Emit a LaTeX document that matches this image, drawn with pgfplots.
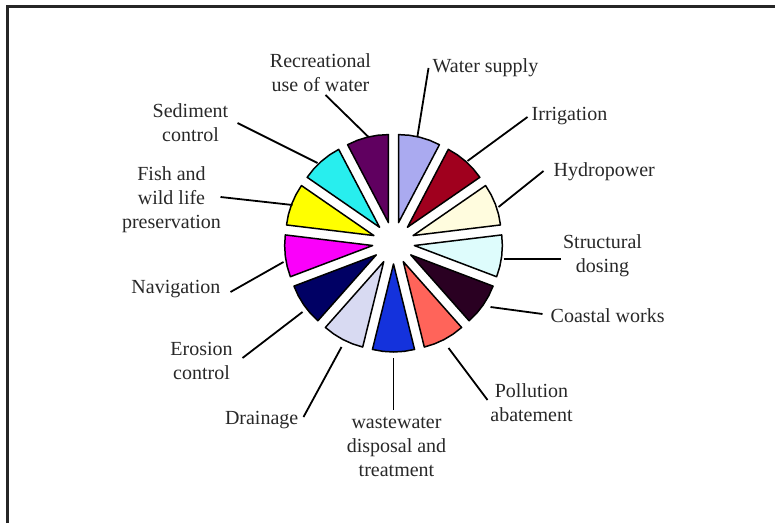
\documentclass[border=0pt]{standalone}
\usepackage{pgfplots}
\pgfplotsset{compat=1.18}
\usepackage{fontspec}
\setmainfont{Liberation Serif}
\definecolor{cWater}{RGB}{170,170,240}
\definecolor{cIrr}{RGB}{160,0,30}
\definecolor{cHydro}{RGB}{255,252,222}
\definecolor{cStruct}{RGB}{222,252,252}
\definecolor{cCoast}{RGB}{42,0,34}
\definecolor{cPoll}{RGB}{255,100,90}
\definecolor{cWaste}{RGB}{20,50,220}
\definecolor{cDrain}{RGB}{216,218,242}
\definecolor{cEros}{RGB}{0,0,100}
\definecolor{cNav}{RGB}{250,0,250}
\definecolor{cFish}{RGB}{255,255,0}
\definecolor{cSed}{RGB}{40,238,238}
\definecolor{cRec}{RGB}{96,0,96}
\definecolor{txt}{RGB}{40,40,40}
\tikzset{
  wedge/.style={draw=black, line width=1.5pt, line join=round},
  leader/.style={black, line width=1.8pt},
  lab/.style={text=txt, inner sep=0pt, align=center, font=\fontsize{20}{24}\selectfont}}
\begin{document}
\begin{tikzpicture}
\useasboundingbox (0,0) rectangle (775pt,523pt);
\fill[white] (0,0) rectangle (775pt,523pt);
\draw[line width=3pt, black!85] (7pt,0) -- (7pt,516pt) -- (775pt,516pt);
\begin{axis}[at={(393.5pt,280pt)}, anchor=origin, x=1pt, y=1pt,
  xmin=-260, xmax=260, ymin=-230, ymax=230, hide axis, clip=false]
% 13 equal shares (1 each) -> 27.69 deg each, exploded by 21, radius 88
\addplot[wedge, data cs=polar, fill=cWater, xshift=5.03pt, yshift=20.39pt] coordinates {(0,0) (90,88) (83.077,88) (76.154,88) (69.231,88) (62.308,88)} -- cycle;
\addplot[wedge, data cs=polar, fill=cIrr, xshift=13.92pt, yshift=15.72pt] coordinates {(0,0) (62.308,88) (55.385,88) (48.462,88) (41.538,88) (34.615,88)} -- cycle;
\addplot[wedge, data cs=polar, fill=cHydro, xshift=19.64pt, yshift=7.45pt] coordinates {(0,0) (34.615,88) (27.692,88) (20.769,88) (13.846,88) (6.923,88)} -- cycle;
\addplot[wedge, data cs=polar, fill=cStruct, xshift=20.85pt, yshift=-2.53pt] coordinates {(0,0) (6.923,88) (0,88) (-6.923,88) (-13.846,88) (-20.769,88)} -- cycle;
\addplot[wedge, data cs=polar, fill=cCoast, xshift=17.28pt, yshift=-11.93pt] coordinates {(0,0) (-20.769,88) (-27.692,88) (-34.615,88) (-41.538,88) (-48.462,88)} -- cycle;
\addplot[wedge, data cs=polar, fill=cPoll, xshift=9.76pt, yshift=-18.60pt] coordinates {(0,0) (-48.462,88) (-55.385,88) (-62.308,88) (-69.231,88) (-76.154,88)} -- cycle;
\addplot[wedge, data cs=polar, fill=cWaste, xshift=0pt, yshift=-21pt] coordinates {(0,0) (-76.154,88) (-83.077,88) (-90,88) (-96.923,88) (-103.846,88)} -- cycle;
\addplot[wedge, data cs=polar, fill=cDrain, xshift=-9.76pt, yshift=-18.60pt] coordinates {(0,0) (-103.846,88) (-110.769,88) (-117.692,88) (-124.615,88) (-131.538,88)} -- cycle;
\addplot[wedge, data cs=polar, fill=cEros, xshift=-17.28pt, yshift=-11.93pt] coordinates {(0,0) (-131.538,88) (-138.462,88) (-145.385,88) (-152.308,88) (-159.231,88)} -- cycle;
\addplot[wedge, data cs=polar, fill=cNav, xshift=-20.85pt, yshift=-2.53pt] coordinates {(0,0) (-159.231,88) (-166.154,88) (-173.077,88) (-180,88) (-186.923,88)} -- cycle;
\addplot[wedge, data cs=polar, fill=cFish, xshift=-19.64pt, yshift=7.45pt] coordinates {(0,0) (-186.923,88) (-193.846,88) (-200.769,88) (-207.692,88) (-214.615,88)} -- cycle;
\addplot[wedge, data cs=polar, fill=cSed, xshift=-13.92pt, yshift=15.72pt] coordinates {(0,0) (-214.615,88) (-221.538,88) (-228.462,88) (-235.385,88) (-242.308,88)} -- cycle;
\addplot[wedge, data cs=polar, fill=cRec, xshift=-5.03pt, yshift=20.39pt] coordinates {(0,0) (-242.308,88) (-249.231,88) (-256.154,88) (-263.077,88) (-270,88)} -- cycle;
% leader lines
\addplot[leader] coordinates {(-68,148) (-25,106)};
\addplot[leader] coordinates {(35,175) (24,107)};
\addplot[leader] coordinates {(134,126) (74,82)};
\addplot[leader] coordinates {(150,72) (105,36)};
\addplot[leader] coordinates {(110,-16) (167,-16)};
\addplot[leader] coordinates {(97,-64) (149,-71)};
\addplot[leader] coordinates {(55,-105) (94,-157)};
\addplot[leader] coordinates {(0,-115) (0,-167)};
\addplot[leader] coordinates {(-90,-174) (-52,-104)};
\addplot[leader] coordinates {(-151,-115) (-91,-69)};
\addplot[leader] coordinates {(-163,-49) (-110,-19)};
\addplot[leader] coordinates {(-173,46) (-101,38)};
\addplot[leader] coordinates {(-156,120) (-76,80)};
% labels
\node[lab] at (axis cs:-73,170.5) {Recreational\\use of water};
\node[lab, anchor=west] at (axis cs:39,175.5) {Water supply};
\node[lab, anchor=west] at (axis cs:138,126.5) {Irrigation};
\node[lab, anchor=west] at (axis cs:160,71) {Hydropower};
\node[lab] at (axis cs:209,-13) {Structural\\dosing};
\node[lab, anchor=west] at (axis cs:157,-73) {Coastal works};
\node[lab] at (axis cs:138,-159.5) {Pollution\\abatement};
\node[lab] at (axis cs:3,-203.7) {wastewater\\disposal and\\treatment};
\node[lab, anchor=east] at (axis cs:-95,-177.5) {Drainage};
\node[lab] at (axis cs:-192,-117.5) {Erosion\\control};
\node[lab, anchor=east] at (axis cs:-173,-46.5) {Navigation};
\node[lab] at (axis cs:-222,43.7) {Fish and\\wild life\\preservation};
\node[lab] at (axis cs:-203,120.3) {Sediment\\control};
\end{axis}
\end{tikzpicture}
\end{document}
